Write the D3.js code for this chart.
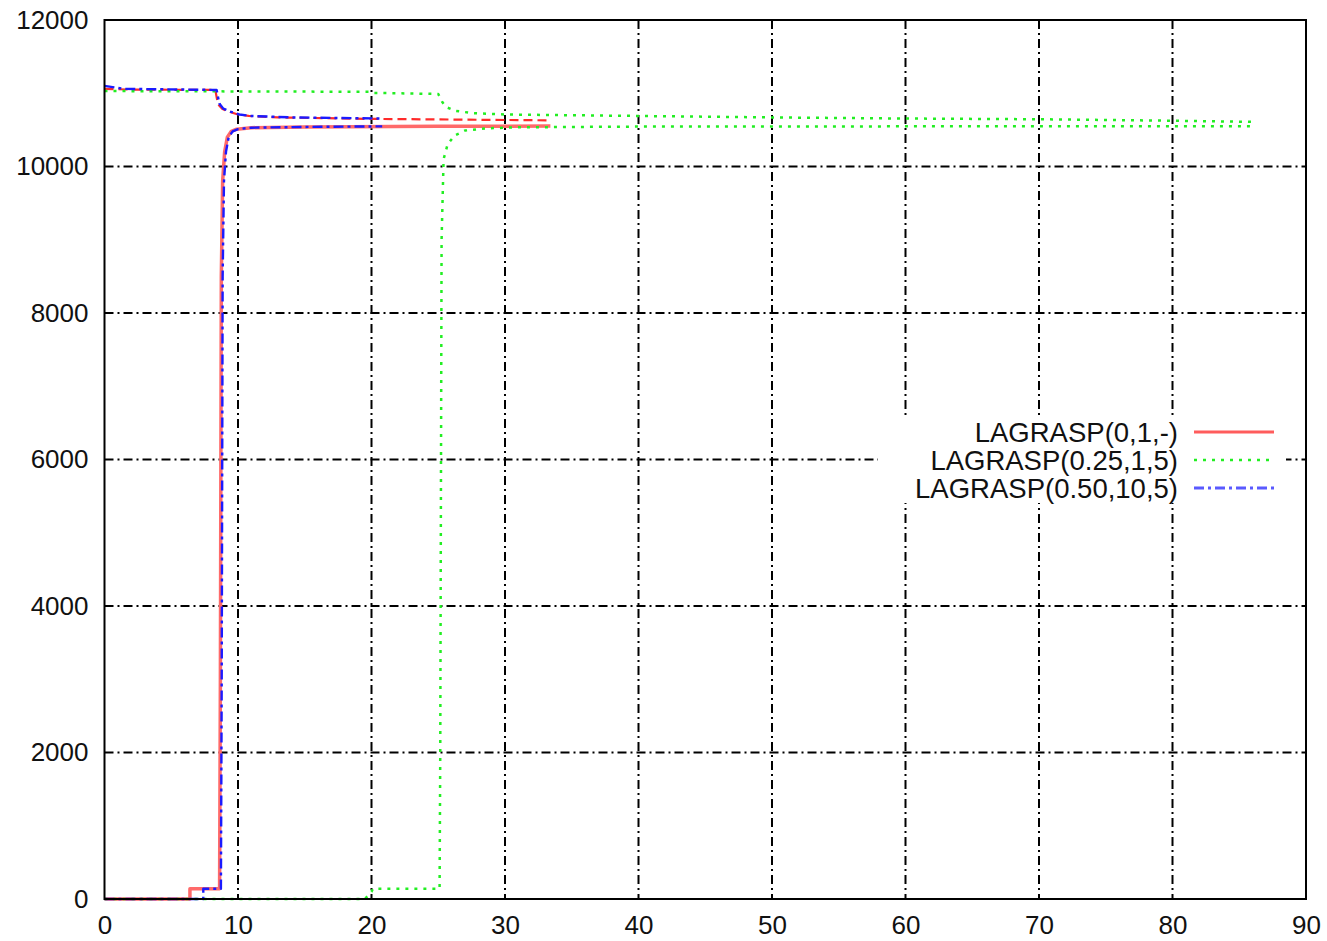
<!DOCTYPE html>
<html>
<head>
<meta charset="utf-8">
<script src="https://cdn.jsdelivr.net/npm/d3@7/dist/d3.min.js"></script>
<style>
  html, body { margin: 0; padding: 0; background: #fff; }
  svg { display: block; }
  text { font-family: "Liberation Sans", Arial, sans-serif; fill: #111; }
</style>
</head>
<body>
<svg id="chart" width="1327" height="941"></svg>
<script>
// Axis ticks
const xTicks = [0, 10, 20, 30, 40, 50, 60, 70, 80, 90];
const yTicks = [0, 2000, 4000, 6000, 8000, 10000, 12000];

// Legend labels
const seriesNames = ["LAGRASP(0,1,-)", "LAGRASP(0.25,1,5)", "LAGRASP(0.50,10,5)"];

// LAGRASP(0,1,-): lower bound (solid) and upper bound (dashed)
const lag0LowT = [0, 6.4, 6.4, 8.62, 8.68, 8.75, 8.85, 9.0, 9.2, 9.5, 9.9, 11, 15, 25, 33.4];
const lag0LowV = [0, 0, 140, 140, 3000, 8500, 9800, 10200, 10400, 10480, 10510, 10530, 10540, 10548, 10552];
const lag0UpT  = [0, 2, 8.3, 8.5, 8.8, 9.3, 10.0, 10.8, 13, 20, 33.4];
const lag0UpV  = [11060, 11050, 11045, 10850, 10790, 10750, 10710, 10690, 10670, 10650, 10630];

// LAGRASP(0.25,1,5): lower bound and upper bound (both dotted)
const lag25LowT = [0, 19.5, 20.0, 20.1, 25.1, 25.15, 25.25, 25.4, 25.7, 26.2, 27.0, 28.5, 31, 40, 60, 86];
const lag25LowV = [0, 0, 100, 140, 140, 2000, 9000, 10100, 10300, 10420, 10490, 10520, 10535, 10545, 10548, 10550];
const lag25UpT  = [0, 10, 19.8, 20.2, 25.0, 25.3, 25.6, 26.3, 27.5, 30, 40, 50, 60, 70, 80, 86];
const lag25UpV  = [11030, 11025, 11020, 11005, 10990, 10880, 10810, 10760, 10730, 10710, 10690, 10670, 10655, 10645, 10625, 10610];

// LAGRASP(0.50,10,5): lower bound and upper bound (both dash-dot)
const lag50LowT = [0, 7.4, 7.4, 8.72, 8.78, 8.85, 8.95, 9.1, 9.3, 9.6, 10.0, 11, 15, 20.8];
const lag50LowV = [0, 0, 140, 140, 3000, 8500, 9800, 10200, 10400, 10480, 10510, 10530, 10540, 10548];
const lag50UpT  = [0, 1.5, 8.4, 8.6, 8.9, 9.4, 10.1, 11, 14, 20.8];
const lag50UpV  = [11100, 11060, 11045, 10860, 10790, 10750, 10710, 10690, 10670, 10655];

const svg = d3.select("#chart");

const x = d3.scaleLinear().domain([0, 90]).range([104.5, 1306]);
const y = d3.scaleLinear().domain([0, 12000]).range([899, 20]);

const pairs = (ts, vs) => ts.map((t, i) => [t, vs[i]]);
const line = d3.line().x(d => x(d[0])).y(d => y(d[1]));

// Grid lines
const grid = svg.append("g").attr("class", "grid");
grid.selectAll("line.gx").data(xTicks.slice(1, -1)).join("line")
  .attr("x1", d => x(d)).attr("x2", d => x(d))
  .attr("y1", y(12000)).attr("y2", y(0))
  .attr("stroke", "#000").attr("stroke-width", 2)
  .attr("stroke-dasharray", "9,4,2,4");
grid.selectAll("line.gy").data(yTicks.slice(1, -1)).join("line")
  .attr("x1", x(0)).attr("x2", x(90))
  .attr("y1", d => y(d)).attr("y2", d => y(d))
  .attr("stroke", "#000").attr("stroke-width", 2)
  .attr("stroke-dasharray", "9,4,2,4");

// Legend background (blanks the grid behind the key)
svg.append("rect")
  .attr("x", 878).attr("y", 417).attr("width", 408).attr("height", 86)
  .attr("fill", "#fff");

// Series styles
const styles = {
  red:   { color: "#ff2a2a", width: 2.2, dash: "9,5" },
  redS:  { color: "#ff6a6a", width: 3.5, dash: null },
  green: { color: "#22ee22", width: 2.5, dash: "3,6" },
  blue:  { color: "#1a1aff", width: 2.4, dash: "10,4,3,4" }
};

function drawCurve(data, st) {
  const p = svg.append("path")
    .datum(data)
    .attr("d", line)
    .attr("fill", "none")
    .attr("stroke", st.color)
    .attr("stroke-width", st.width)
    .attr("stroke-linejoin", "round");
  if (st.dash) p.attr("stroke-dasharray", st.dash);
}

drawCurve(pairs(lag0LowT, lag0LowV), styles.redS);
drawCurve(pairs(lag0UpT, lag0UpV), styles.red);
drawCurve(pairs(lag25LowT, lag25LowV), styles.green);
drawCurve(pairs(lag25UpT, lag25UpV), styles.green);
drawCurve(pairs(lag50LowT, lag50LowV), styles.blue);
drawCurve(pairs(lag50UpT, lag50UpV), styles.blue);

// Frame
svg.append("rect")
  .attr("x", x(0)).attr("y", y(12000))
  .attr("width", x(90) - x(0)).attr("height", y(0) - y(12000))
  .attr("fill", "none").attr("stroke", "#000").attr("stroke-width", 2);

// Axes labels
const xAxis = d3.axisBottom(x).tickValues(xTicks).tickSize(0).tickPadding(17);
svg.append("g").attr("transform", `translate(0,${y(0)})`).call(xAxis)
  .call(g => g.select(".domain").remove())
  .call(g => g.selectAll("text").attr("font-size", 26)
    .style("font-family", "'Liberation Sans', Arial, sans-serif").attr("fill", "#111"));

const yAxis = d3.axisLeft(y).tickValues(yTicks).tickSize(0).tickPadding(16).tickFormat(d3.format("d"));
svg.append("g").attr("transform", `translate(${x(0)},0)`).call(yAxis)
  .call(g => g.select(".domain").remove())
  .call(g => g.selectAll("text").attr("font-size", 26)
    .style("font-family", "'Liberation Sans', Arial, sans-serif").attr("fill", "#111"));

// Legend
const legendStyles = [
  { color: "#ff5c5c", width: 3.2, dash: null },
  { color: "#22ee22", width: 2.5, dash: "3,6" },
  { color: "#5a5aff", width: 3, dash: "10,4,3,4" }
];
const legend = svg.append("g");
seriesNames.forEach((name, i) => {
  const cy = 432 + i * 28;
  legend.append("text")
    .attr("x", 1178).attr("y", cy + 10)
    .attr("text-anchor", "end")
    .attr("font-size", 27.5)
    .text(name);
  const ln = legend.append("line")
    .attr("x1", 1194).attr("x2", 1274)
    .attr("y1", cy).attr("y2", cy)
    .attr("stroke", legendStyles[i].color)
    .attr("stroke-width", legendStyles[i].width);
  if (legendStyles[i].dash) ln.attr("stroke-dasharray", legendStyles[i].dash);
});
</script>
</body>
</html>
